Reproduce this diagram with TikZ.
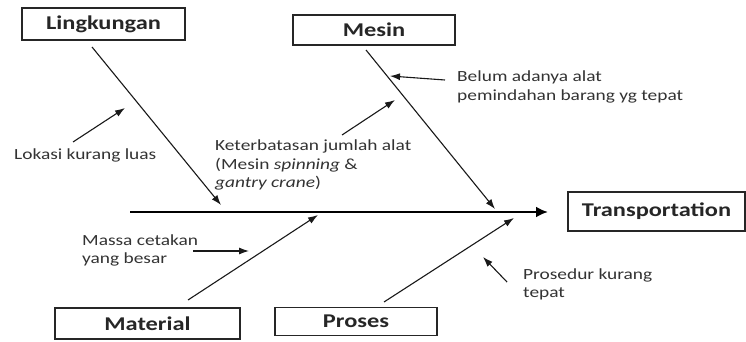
\documentclass[tikz,border=0pt]{standalone}
\usepackage{fontspec}
\setmainfont[FakeStretch=1.25]{Carlito}
\usetikzlibrary{arrows.meta}
\begin{document}
\begin{tikzpicture}[x=1pt,y=-1pt,
  catbox/.style={draw=black!85, line width=1.2pt, fill=white, inner sep=0pt,
    font=\fontsize{19.5}{23}\selectfont\bfseries, text=black!85},
  cause/.style={anchor=west, align=left, inner sep=0pt, text=black!80,
    font=\fontsize{15.5}{18.5}\selectfont},
  bone/.style={line width=1.1pt, draw=black!90, -{Latex[length=10pt,width=7pt]}},
  small/.style={line width=1.1pt, draw=black!90, -{Latex[length=10pt,width=7pt]}},
  spine/.style={line width=2.4pt, draw=black, -{Latex[length=12pt,width=11pt]}}]
\useasboundingbox (0,0) rectangle (746,342);
\fill[white] (0,0) rectangle (746,342);

% category boxes
\node[catbox, minimum width=163pt, minimum height=32pt] (ling) at (103.5,24) {Lingkungan};
\node[catbox, minimum width=162pt, minimum height=30pt] (mesin) at (374,30) {Mesin};
\node[catbox, minimum width=177pt, minimum height=39pt] (trans) at (656.5,211.5) {Transportation};
\node[catbox, minimum width=185pt, minimum height=31pt] (mat) at (147.5,323.5) {Material};
\node[catbox, minimum width=162pt, minimum height=28pt] (pros) at (356,321.5) {Proses};

% spine
\coordinate (s0) at (130,212);
\coordinate (s1) at (548,212);
\draw[spine] (s0) -- (s1);

% bones
\coordinate (lA) at (92,47);   \coordinate (lB) at (221,205);
\coordinate (mA) at (366,50);  \coordinate (mB) at (495,209);
\coordinate (tA) at (188,300); \coordinate (tB) at (318,215);
\coordinate (pA) at (384,302); \coordinate (pB) at (514,218);
\draw[bone] (lA) -- (lB);
\draw[bone] (mA) -- (mB);
\draw[bone] (tA) -- (tB);
\draw[bone] (pA) -- (pB);

% cause texts
\node[cause] (lok) at (14,155) {Lokasi kurang luas};
\node[cause] (bel) at (457,87) {Belum adanya alat\\pemindahan barang yg tepat};
\node[cause] (ket) at (215,165) {Keterbatasan jumlah alat\\(Mesin \textit{spinning} \&\\\textit{gantry crane})};
\node[cause] (mas) at (82,250.5) {Massa cetakan\\yang besar};
\node[cause] (pro) at (523,284.5) {Prosedur kurang\\tepat};

% cause arrows
\coordinate (a1) at (73,142);  \coordinate (a1t) at (125,108);
\coordinate (a2) at (445,80);  \coordinate (a2t) at (390,76);
\coordinate (a3) at (342,135); \coordinate (a3t) at (395,100);
\coordinate (a4) at (193,251); \coordinate (a4t) at (249,251);
\coordinate (a5) at (507,282); \coordinate (a5t) at (483,257);
\draw[small] (a1) -- (a1t);
\draw[small] (a2) -- (a2t);
\draw[small] (a3) -- (a3t);
\draw[small] (a4) -- (a4t);
\draw[small] (a5) -- (a5t);
\end{tikzpicture}
\end{document}
